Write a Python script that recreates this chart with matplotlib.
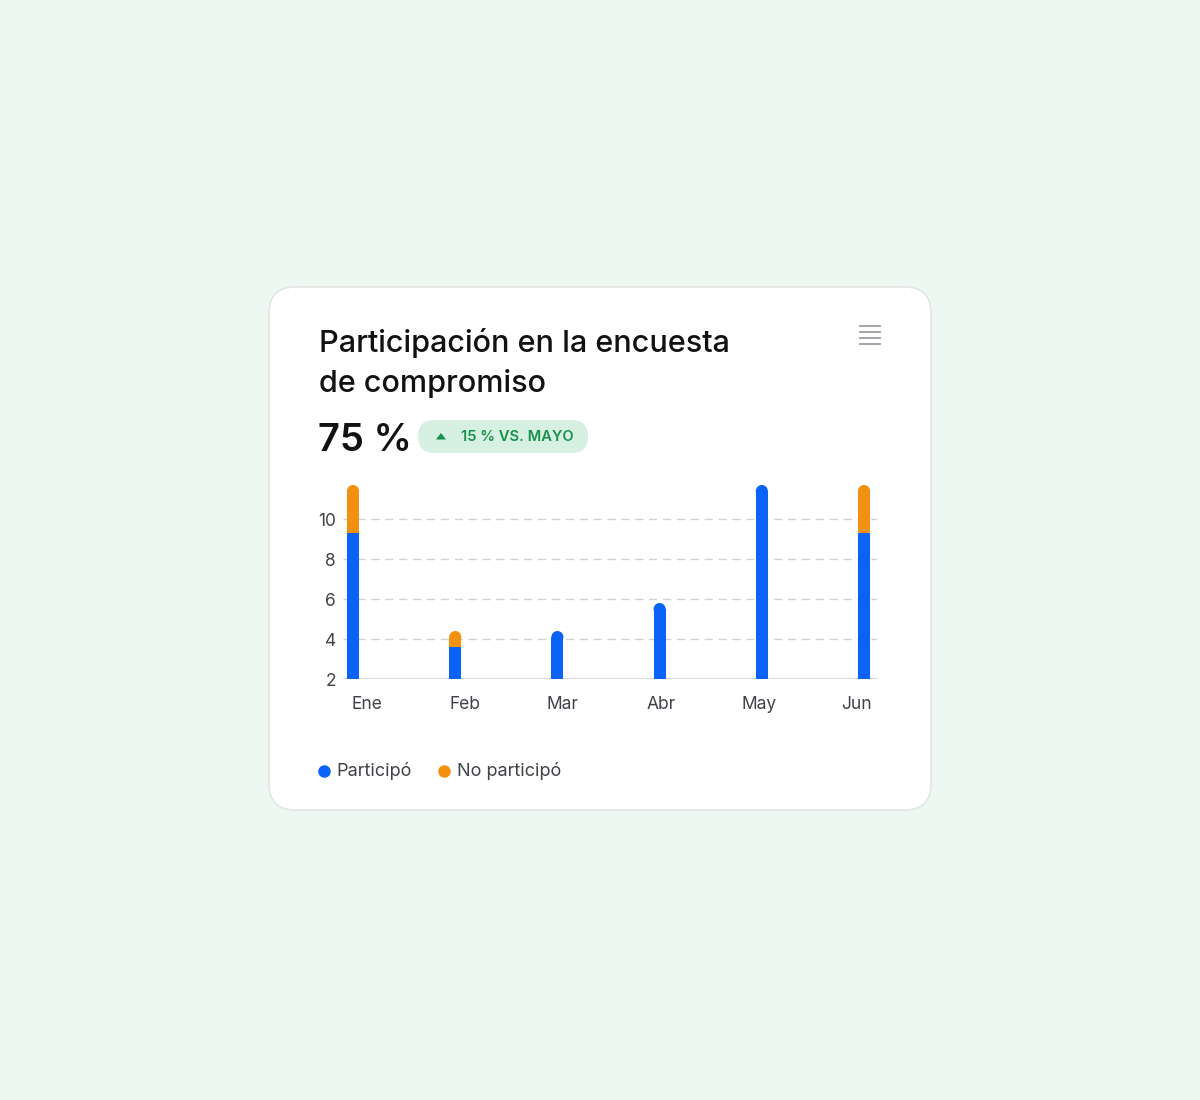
import matplotlib
matplotlib.use("Agg")
import matplotlib.pyplot as plt
from matplotlib.patches import FancyBboxPatch, Polygon, Ellipse
from matplotlib.lines import Line2D

# data
months = ["Ene", "Feb", "Mar", "Abr", "May", "Jun"]
participo = [9.3, 3.6, 4.4, 5.8, 11.7, 9.3]      # top of blue segment
no_participo = [2.4, 0.8, 0.0, 0.0, 0.0, 2.4]    # orange segment on top
y_ticks = [2, 4, 6, 8, 10]

title_lines = ["Participación en la encuesta", "de compromiso"]
kpi = "75 %"
badge = "15 % VS. MAYO"
legend_labels = ["Participó", "No participó"]

BLUE = "#0a63f6"
ORANGE = "#f2900f"
BG = "#edf8f2"
TEXT = "#111111"
MUTED = "#3f4247"

plt.rcParams["font.family"] = ["Inter", "DejaVu Sans"]

W, H = 1200, 1100
fig = plt.figure(figsize=(12, 11), dpi=100)
fig.patch.set_facecolor(BG)

# pixel-space canvas for card, header and legend
bg = fig.add_axes([0, 0, 1, 1], zorder=0)
bg.set_xlim(0, W)
bg.set_ylim(H, 0)
bg.axis("off")

card = FancyBboxPatch((269, 287), 662, 523, boxstyle="round,pad=0,rounding_size=26",
                      fc="white", ec="#e1e5e3", lw=1.2)
bg.add_patch(card)

bg.text(319, 352, title_lines[0], fontsize=22, color=TEXT, fontweight="medium")
bg.text(319, 392, title_lines[1], fontsize=22, color=TEXT, fontweight="medium")
bg.text(318, 451, kpi, fontsize=27.5, color=TEXT, fontweight="semibold")

pill = FancyBboxPatch((418, 420), 170, 33, boxstyle="round,pad=0,rounding_size=16.5",
                      fc="#d6f1e2", ec="none")
bg.add_patch(pill)
bg.add_patch(Polygon([[436, 439.5], [446, 439.5], [441, 433]], closed=True,
                     fc="#17904b", ec="none"))
bg.text(461, 437, badge, fontsize=10.6, color="#17904b", fontweight="semibold",
        va="center")

# menu icon
for yy in [326, 332, 338, 344]:
    bg.add_line(Line2D([860, 880], [yy, yy], color="#9a9ea3", lw=1.3))

# legend
for (lx, tx), lab, col in zip([(324, 336), (444, 457)], legend_labels, [BLUE, ORANGE]):
    bg.plot(lx, 771, "o", ms=9, color=col, mec="none")
    bg.text(tx, 771, lab, fontsize=13, color=MUTED, va="center")

# chart
ax = fig.add_axes([343 / W, 1 - 679 / H, (877 - 343) / W, 200 / H], zorder=2)
ax.patch.set_alpha(0)
ax.set_xlim(-0.098, 5.127)
ax.set_ylim(2, 12)

bw = 0.118
cap = 0.3  # cap radius in data units (~6 px)
base = ax.get_ylim()[0]
for i, (p, n) in enumerate(zip(participo, no_participo)):
    top = p + n
    if n > 0:
        ax.bar(i, p - base, bottom=base, width=bw, color=BLUE, lw=0, zorder=3)
        ax.bar(i, top - cap - p, bottom=p, width=bw, color=ORANGE, lw=0, zorder=3)
        cap_col = ORANGE
    else:
        ax.bar(i, top - cap - base, bottom=base, width=bw, color=BLUE, lw=0, zorder=3)
        cap_col = BLUE
    ax.add_patch(Ellipse((i, top - cap), bw, 2 * cap, fc=cap_col, ec="none",
                         zorder=3, clip_on=False))

ax.set_yticks(y_ticks)
ax.set_yticklabels([str(v) for v in y_ticks])
for v in y_ticks[1:]:
    ax.axhline(v, color="#cfd2d5", lw=1, ls=(0, (6, 4)), zorder=1)
ax.axhline(base, color="#d9dcdf", lw=1.5, zorder=2)

label_pos = [0.137 + k * 0.9586 for k in range(len(months))]
ax.set_xticks(label_pos)
ax.set_xticklabels(months)
ax.tick_params(axis="both", length=0, labelsize=12.5, labelcolor=MUTED)
ax.tick_params(axis="x", pad=12)
ax.tick_params(axis="y", pad=5)
for s in ax.spines.values():
    s.set_visible(False)

fig.savefig("out.png", dpi=100, facecolor=BG)
